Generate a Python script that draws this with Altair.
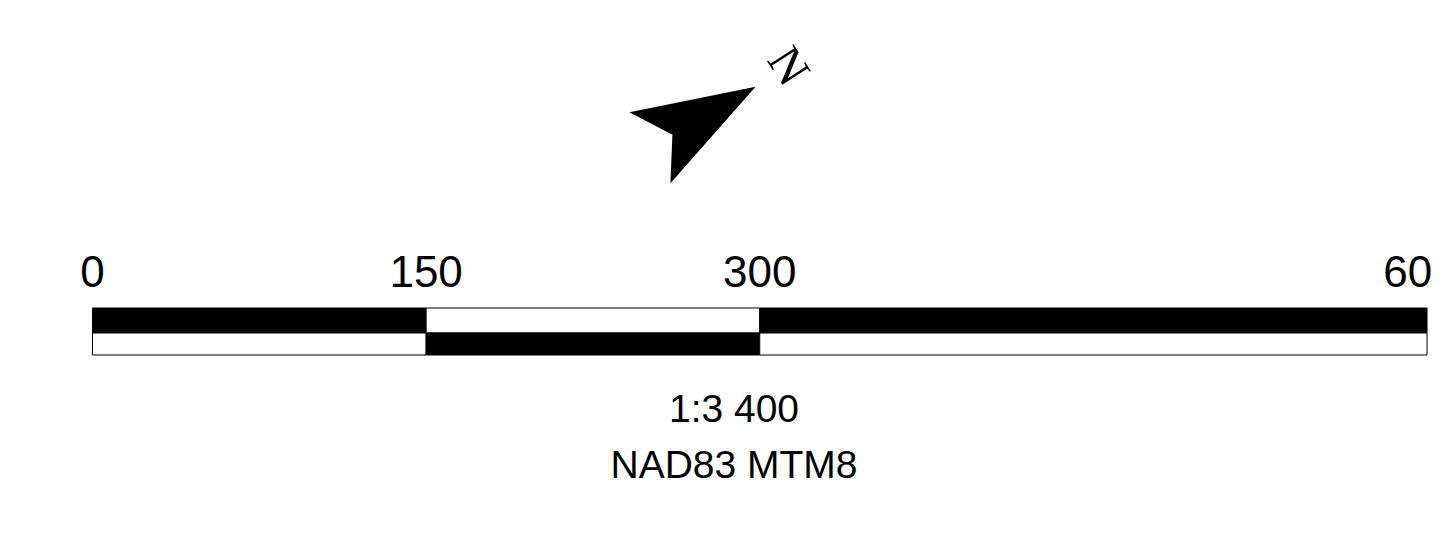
import altair as alt
import pandas as pd

# ---- data ----
tick_values = [0, 150, 300, 600]
tick_labels = ["0", "150", "300", "600"]
seg_start = [0, 150, 300]
seg_end = [150, 300, 600]
top_fill = ["black", "white", "black"]
bottom_fill = ["white", "black", "white"]
scale_text = ["1:3 400"]
crs_text = ["NAD83 MTM8"]
north_label = ["N"]

W, H = 1424, 525
xs = alt.Scale(domain=[-37.99, 602.24], nice=False, zero=False)

top_df = pd.DataFrame({"start": seg_start, "end": seg_end, "fill": top_fill})
bot_df = pd.DataFrame({"start": seg_start, "end": seg_end, "fill": bottom_fill})
tick_df = pd.DataFrame({"v": tick_values, "label": tick_labels})

top_bar = alt.Chart(top_df).mark_rect(stroke="black", strokeWidth=1).encode(
    x=alt.X("start:Q", scale=xs, axis=None),
    x2="end:Q",
    y=alt.value(300),
    y2=alt.value(325),
    fill=alt.Fill("fill:N", scale=None),
)
bot_bar = alt.Chart(bot_df).mark_rect(stroke="black", strokeWidth=1).encode(
    x=alt.X("start:Q", scale=xs, axis=None),
    x2="end:Q",
    y=alt.value(325),
    y2=alt.value(347),
    fill=alt.Fill("fill:N", scale=None),
)
tick_enc = dict(
    x=alt.X("v:Q", scale=xs, axis=None),
    y=alt.value(279),
    text="label:N",
)
ticks = alt.Chart(tick_df).transform_filter("datum.v < 600").mark_text(
    font="Liberation Sans", fontSize=44, align="center", baseline="alphabetic", color="black"
).encode(**tick_enc)
last_tick = alt.Chart(tick_df).transform_filter("datum.v >= 600").mark_text(
    font="Liberation Sans", fontSize=44, align="center", baseline="alphabetic", color="black", dx=-7
).encode(**tick_enc)
scale_lbl = alt.Chart(pd.DataFrame({"t": scale_text})).mark_text(
    font="Liberation Sans", fontSize=39, align="center", baseline="alphabetic", color="black"
).encode(x=alt.value(726), y=alt.value(414), text="t:N")
crs_lbl = alt.Chart(pd.DataFrame({"t": crs_text})).mark_text(
    font="Liberation Sans", fontSize=39, align="center", baseline="alphabetic", color="black"
).encode(x=alt.value(726), y=alt.value(470), text="t:N")

arrow_path = "M0,-1 L0.672,1 L0,0.574 L-0.672,1 Z"
arrow = alt.Chart(pd.DataFrame({"t": north_label})).mark_point(
    shape=arrow_path, size=14884, filled=True, color="black", opacity=1, angle=60, strokeWidth=0
).encode(x=alt.value(694.75), y=alt.value(109.25))
north = alt.Chart(pd.DataFrame({"t": north_label})).mark_text(
    font="Liberation Serif", fontSize=48, angle=57, align="center", baseline="middle", color="black"
).encode(x=alt.value(779.5), y=alt.value(59), text="t:N")

chart = alt.layer(top_bar, bot_bar, ticks, last_tick, scale_lbl, crs_lbl, arrow, north).properties(
    width=W, height=H, padding=0, autosize=alt.AutoSizeParams(type="none"), background="white"
).configure_view(strokeWidth=0)

chart.save("out.html", embed_options={"renderer": "svg", "actions": False})
